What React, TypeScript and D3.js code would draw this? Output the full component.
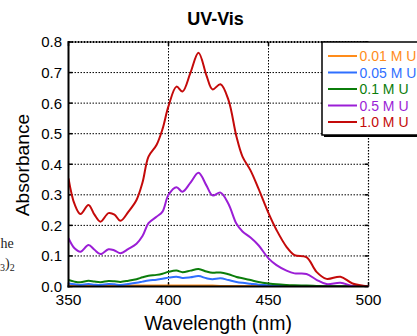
import React from "react";
import * as d3 from "d3";

const wavelengths = [350, 353, 356, 360, 363, 366, 370, 373, 376, 380, 384, 387, 390, 394, 397, 400, 404, 407, 411, 415, 419, 422, 426, 430, 434, 437, 441, 445, 450, 454, 459, 463, 469, 474, 479, 486, 492, 500];

const abs001 = [0.003, 0.003, 0.003, 0.003, 0.003, 0.003, 0.003, 0.003, 0.003, 0.003, 0.003, 0.003, 0.003, 0.003, 0.003, 0.003, 0.003, 0.003, 0.003, 0.003, 0.003, 0.003, 0.002, 0.002, 0.002, 0.002, 0.002, 0.002, 0.002, 0.002, 0.002, 0.002, 0.001, 0.001, 0.001, 0.0, 0.0, 0.0];
const abs005 = [0.010, 0.007, 0.005, 0.008, 0.006, 0.005, 0.008, 0.007, 0.005, 0.008, 0.012, 0.016, 0.020, 0.022, 0.025, 0.029, 0.032, 0.028, 0.030, 0.034, 0.027, 0.024, 0.027, 0.021, 0.015, 0.012, 0.009, 0.006, 0.004, 0.002, 0.001, 0.0, 0.0, 0.0, 0.0, 0.0, 0.0, 0.0];
const abs01 = [0.021, 0.016, 0.014, 0.019, 0.016, 0.014, 0.018, 0.017, 0.015, 0.019, 0.024, 0.030, 0.035, 0.038, 0.042, 0.048, 0.052, 0.047, 0.052, 0.057, 0.049, 0.045, 0.046, 0.040, 0.031, 0.027, 0.021, 0.015, 0.010, 0.007, 0.005, 0.004, 0.003, 0.002, 0.001, 0.001, 0.0, 0.0];
const abs05 = [0.158, 0.125, 0.114, 0.136, 0.120, 0.106, 0.122, 0.118, 0.109, 0.123, 0.140, 0.165, 0.207, 0.228, 0.245, 0.300, 0.325, 0.310, 0.340, 0.372, 0.330, 0.298, 0.307, 0.270, 0.205, 0.180, 0.160, 0.135, 0.092, 0.070, 0.052, 0.043, 0.041, 0.022, 0.008, 0.012, 0.002, 0.0];
const abs10 = [0.354, 0.270, 0.237, 0.267, 0.235, 0.212, 0.240, 0.235, 0.215, 0.245, 0.283, 0.340, 0.425, 0.463, 0.515, 0.590, 0.654, 0.638, 0.700, 0.765, 0.690, 0.645, 0.662, 0.610, 0.490, 0.425, 0.380, 0.320, 0.240, 0.185, 0.130, 0.103, 0.096, 0.048, 0.025, 0.032, 0.010, 0.0];

const seriesLabels = ["0.01 M U", "0.05 M U", "0.1 M U", "0.5 M U", "1.0 M U"];
const seriesValues = [abs001, abs005, abs01, abs05, abs10];
const seriesColors = ["#ff8c1a", "#2f6fff", "#0b7d0b", "#9b1ed6", "#c40a0a"];

const xTicks = [350, 400, 450, 500];
const yTicks = [0, 0.1, 0.2, 0.3, 0.4, 0.5, 0.6, 0.7, 0.8];

const W = 417;
const H = 336;
const left = 68.5;
const right = 368.5;
const top = 42;
const bottom = 286.5;

const FONT = "'Liberation Sans', Arial, sans-serif";
const SERIF = "'Liberation Serif', 'Times New Roman', serif";

export default function App() {
  const x = d3.scaleLinear().domain([350, 500]).range([left, right]);
  const y = d3.scaleLinear().domain([0, 0.8]).range([bottom, top]);
  const line = d3
    .line<[number, number]>()
    .x((d) => x(d[0]))
    .y((d) => y(d[1]))
    .curve(d3.curveCatmullRom.alpha(0.5));

  return (
    <svg
      width={W}
      height={H}
      style={{ position: "absolute", left: 0, top: 0, background: "#fff" }}
      fontFamily={FONT}
    >
      <defs>
        <clipPath id="plotclip">
          <rect x={left} y={top - 2} width={right - left} height={bottom - top + 2} />
        </clipPath>
      </defs>
      <rect x={0} y={0} width={W} height={H} fill="#fff" />

      {/* stray text fragments */}
      <text x={0.5} y={248} fontFamily={SERIF} fontSize={14} fill="#222">
        he
      </text>
      <text x={0} y={268} fontFamily={SERIF} fontSize={14} fill="#222">
        <tspan fontSize={10} dy={3}>3</tspan><tspan dy={-3}>)</tspan><tspan fontSize={10} dy={3}>2</tspan>
      </text>

      {/* title */}
      <text x={215.5} y={25} textAnchor="middle" fontSize={18} fontWeight="bold" fill="#000">
        UV-Vis
      </text>

      {/* grid */}
      {yTicks.slice(1, -1).map((t) => (
        <line key={"gy" + t} x1={left} x2={right} y1={y(t)} y2={y(t)} stroke="#000" strokeWidth={1} strokeDasharray="1.5,1.5" />
      ))}
      {xTicks.slice(1, -1).map((t) => (
        <line key={"gx" + t} x1={x(t)} x2={x(t)} y1={top} y2={bottom} stroke="#000" strokeWidth={1} strokeDasharray="1.5,1.5" />
      ))}

      {/* top and right border dotted */}
      <line x1={left} x2={right} y1={top} y2={top} stroke="#000" strokeWidth={2} strokeDasharray="2,1" />
      <line x1={right} x2={right} y1={top} y2={bottom} stroke="#000" strokeWidth={1.2} strokeDasharray="1.5,1.5" />

      {/* ticks */}
      {yTicks.map((t) => (
        <g key={"ty" + t}>
          <line x1={left} x2={left + 4} y1={y(t)} y2={y(t)} stroke="#000" strokeWidth={1.5} />
          <line x1={right - 4} x2={right} y1={y(t)} y2={y(t)} stroke="#000" strokeWidth={1.5} />
        </g>
      ))}
      {xTicks.map((t) => (
        <g key={"tx" + t}>
          <line x1={x(t)} x2={x(t)} y1={bottom} y2={bottom - 4} stroke="#000" strokeWidth={1.5} />
          <line x1={x(t)} x2={x(t)} y1={top} y2={top + 4} stroke="#000" strokeWidth={1.5} />
        </g>
      ))}

      {/* series */}
      <g clipPath="url(#plotclip)">
        {seriesValues.map((vals, i) => (
          <path
            key={seriesLabels[i]}
            d={line(wavelengths.map((w, j) => [w, vals[j]] as [number, number])) || ""}
            fill="none"
            stroke={seriesColors[i]}
            strokeWidth={2}
            strokeLinejoin="round"
          />
        ))}
      </g>

      {/* solid left and bottom axes */}
      <line x1={left} x2={left} y1={top - 1} y2={bottom + 1} stroke="#000" strokeWidth={2} />
      <line x1={left - 1} x2={right} y1={bottom} y2={bottom} stroke="#000" strokeWidth={2} />

      {/* tick labels */}
      {yTicks.map((t) => (
        <text key={"ly" + t} x={62} y={y(t)} dy="0.36em" textAnchor="end" fontSize={15} fill="#000">
          {t.toFixed(1)}
        </text>
      ))}
      {xTicks.map((t) => (
        <text key={"lx" + t} x={x(t)} y={305} textAnchor="middle" fontSize={15.5} fill="#000">
          {t}
        </text>
      ))}

      {/* axis titles */}
      <text x={218} y={330} textAnchor="middle" fontSize={19.5} fill="#000">
        Wavelength (nm)
      </text>
      <text transform="translate(28.5,165) rotate(-90)" textAnchor="middle" fontSize={19.2} fill="#000">
        Absorbance
      </text>

      {/* legend */}
      <rect x={324} y={44} width={120} height={93} fill="#000" />
      <rect x={322} y={42} width={120} height={93} fill="#fff" stroke="#000" strokeWidth={1.5} />
      {seriesLabels.map((lab, i) => {
        const ry = 56 + i * 16.5;
        return (
          <g key={"lg" + lab}>
            <line x1={328} x2={357} y1={ry} y2={ry} stroke={seriesColors[i]} strokeWidth={2} />
            <text x={359.5} y={ry} dy="0.36em" fontSize={14} fill={seriesColors[i]}>
              {lab}
            </text>
          </g>
        );
      })}
    </svg>
  );
}
